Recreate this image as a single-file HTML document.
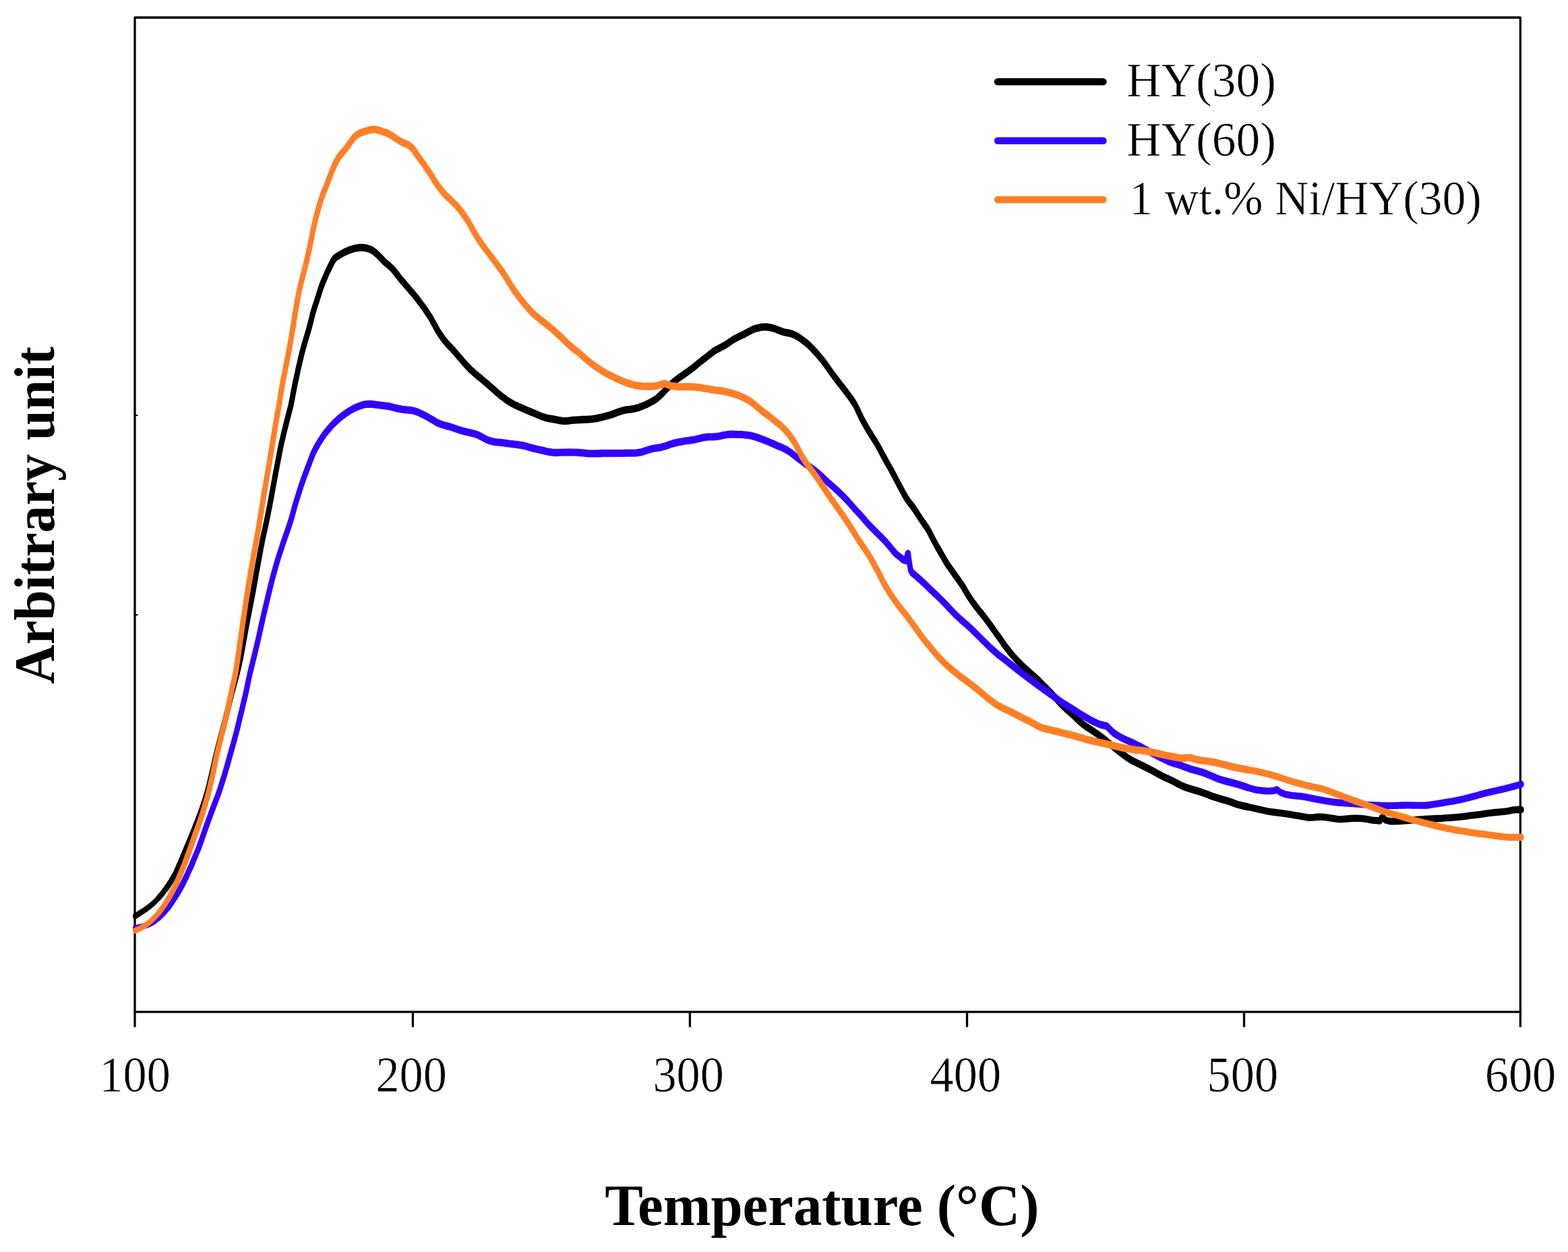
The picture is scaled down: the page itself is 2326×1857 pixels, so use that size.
<!DOCTYPE html>
<html lang="en">
<head>
<meta charset="utf-8">
<title>NH3-TPD profiles</title>
<style>
html,body{margin:0;padding:0;background:#fff;}
body{width:2326px;height:1857px;overflow:hidden;}
svg{display:block;}
text{font-family:"Liberation Serif","DejaVu Serif",serif;fill:#000;}
.tick{font-size:73.5px;stroke:#fff;stroke-width:0.6px;}
.leg{font-size:72.5px;stroke:#fff;stroke-width:0.6px;}
.xl{font-size:87px;font-weight:bold;}
.yl{font-size:85px;font-weight:bold;}
</style>
</head>
<body>
<svg width="2326" height="1857" viewBox="0 0 2326 1857">
<rect x="0" y="0" width="2326" height="1857" fill="#ffffff"/>
<g fill="none" stroke="#000" stroke-width="3.3" stroke-linecap="butt" stroke-linejoin="round">
<rect x="200.0" y="26.0" width="2055.3" height="1474.8"/>
<line x1="200.0" y1="1500.8" x2="200.0" y2="1523.4"/><line x1="612.4" y1="1500.8" x2="612.4" y2="1523.4"/><line x1="1023.4" y1="1500.8" x2="1023.4" y2="1523.4"/><line x1="1434.5" y1="1500.8" x2="1434.5" y2="1523.4"/><line x1="1845.5" y1="1500.8" x2="1845.5" y2="1523.4"/><line x1="2255.3" y1="1500.8" x2="2255.3" y2="1523.4"/>
<line x1="201.0" y1="616" x2="204.5" y2="616" stroke-width="2"/>
<line x1="201.0" y1="912" x2="204.5" y2="912" stroke-width="2"/>
</g>
<g fill="none" stroke-linejoin="round" stroke-linecap="round" transform="scale(1,1.38)">
<g stroke="#000000"><path stroke-width="6.5" d="M200.2,984.9 L204.4,982.9 L208.6,980.9 L212.8,979.0 L216.9,977.0 L221.0,974.8 L224.9,972.5 L228.6,970.1 L232.1,967.5 L235.5,964.9"/><path stroke-width="7.0" d="M235.5,964.9 L238.7,962.2 L241.9,959.3 L244.9,956.4 L247.9,953.6"/><path stroke-width="7.5" d="M247.9,953.6 L250.7,950.5 L253.3,947.5 L255.9,944.3 L258.5,941.2 L260.8,938.0 L263.0,934.8"/><path stroke-width="8.0" d="M263.0,934.8 L265.0,931.5 L267.0,928.2 L268.9,924.9 L270.9,921.5 L272.9,918.1 L274.8,914.8 L276.7,911.4 L278.7,908.1 L280.6,904.8 L282.5,901.4 L284.4,898.0 L286.3,894.7 L288.1,891.3 L289.9,888.0 L291.8,884.6 L293.6,881.2 L295.4,877.8 L297.1,874.4 L298.8,871.0 L300.5,867.6 L302.0,864.1 L303.6,860.7 L305.0,857.2 L306.5,853.8 L307.9,850.3 L309.1,846.8 L310.4,843.3 L311.5,839.7 L312.7,836.2 L313.9,832.7 L315.0,829.1 L316.1,825.7 L317.2,822.1 L318.3,818.6 L319.4,815.0 L320.5,811.5 L321.7,808.0 L322.9,804.4 L324.2,800.9 L325.5,797.5 L326.8,793.9 L328.0,790.4 L329.3,787.0 L330.6,783.4 L331.8,779.9 L333.1,776.4 L334.4,772.9 L335.6,769.3 L336.8,765.9 L338.0,762.3 L339.2,758.8 L340.3,755.3 L341.5,751.7 L342.7,748.3 L343.9,744.7 L345.2,741.2 L346.5,737.8 L347.8,734.2 L349.2,730.7 L350.5,727.2 L351.7,723.7 L352.9,720.2 L354.0,716.7 L355.1,713.1 L356.2,709.6 L357.2,706.0 L358.1,702.5 L359.1,698.9 L359.9,695.4 L360.8,691.8 L361.7,688.2 L362.6,684.6 L363.5,681.1 L364.4,677.5 L365.3,673.9 L366.2,670.4 L367.1,666.8 L368.0,663.3 L369.0,659.7 L369.9,656.2 L370.9,652.6 L371.9,649.1 L372.9,645.4 L373.8,641.9 L374.7,638.3 L375.6,634.8 L376.5,631.2 L377.4,627.6 L378.2,624.1 L379.1,620.5 L380.0,617.0 L380.9,613.3 L381.8,609.8 L382.7,606.2 L383.6,602.7 L384.5,599.1 L385.4,595.5 L386.3,592.0 L387.2,588.4 L388.2,584.9 L389.1,581.3 L390.1,577.8 L391.2,574.2 L392.3,570.7 L393.4,567.1 L394.4,563.6 L395.5,560.0 L396.5,556.4 L397.5,552.9 L398.4,549.3 L399.4,545.8 L400.4,542.2 L401.3,538.7 L402.2,535.1 L403.1,531.6 L404.0,528.0 L404.9,524.4 L405.8,520.9 L406.7,517.3 L407.6,513.7 L408.5,510.1 L409.4,506.6 L410.4,503.0 L411.3,499.5 L412.2,495.9 L413.2,492.4 L414.1,488.8 L415.1,485.2 L416.0,481.7 L417.0,478.1 L418.1,474.6 L419.3,471.1 L420.4,467.5 L421.6,464.0 L422.8,460.5 L424.0,457.0 L425.2,453.5 L426.4,449.9 L427.7,446.4 L429.0,442.9 L430.2,439.4 L431.4,435.9 L432.4,432.3 L433.4,428.8 L434.3,425.2 L435.2,421.7 L436.2,418.1 L437.1,414.6 L438.1,411.0 L439.2,407.5 L440.2,403.9 L441.3,400.4 L442.3,396.8 L443.4,393.3 L444.6,389.8 L445.7,386.2 L446.9,382.7 L448.0,379.2 L449.3,375.7 L450.6,372.2 L452.0,368.7 L453.4,365.2 L454.9,361.7 L456.3,358.3 L457.7,354.8 L459.0,351.3 L460.3,347.8 L461.5,344.3 L462.7,340.7 L463.9,337.2 L465.3,333.8 L466.7,330.3 L468.3,326.9 L469.9,323.4 L471.4,320.0 L472.9,316.5 L474.4,313.0 L475.9,309.6 L477.6,306.2 L479.4,302.8 L481.4,299.5 L483.4,296.2 L485.4,292.8 L487.5,289.6 L489.7,286.3 L492.0,283.0 L494.3,279.9 L497.2,277.0 L501.5,275.1 L505.7,273.2 L510.0,271.4 L514.5,269.9 L519.1,268.5 L523.8,267.4 L528.7,266.6 L533.6,266.1 L538.5,266.1 L543.3,266.6 L548.0,267.6 L552.3,269.2 L556.3,271.2 L560.0,273.6 L563.5,276.2 L566.9,278.8 L570.4,281.4 L574.2,283.8 L578.0,286.1 L581.6,288.6 L584.9,291.2 L588.0,294.1 L591.0,296.9 L594.1,299.8 L597.3,302.5 L600.6,305.3 L603.8,308.0 L607.1,310.8 L610.4,313.6 L613.6,316.3 L616.8,319.1 L619.9,322.0 L622.9,324.9 L625.9,327.8 L628.8,330.7 L631.7,333.7 L634.4,336.7 L637.2,339.7 L639.8,342.8 L642.2,345.9 L644.6,349.1 L647.0,352.3 L649.4,355.5 L652.1,358.6 L654.9,361.5 L657.8,364.5 L660.9,367.3 L664.2,370.1 L667.6,372.7 L671.1,375.3 L674.5,378.0 L677.7,380.7 L680.9,383.5 L684.2,386.2 L687.4,389.0 L690.7,391.7 L694.1,394.3 L697.6,397.0 L701.3,399.4 L705.1,401.8 L708.9,404.1 L712.7,406.4 L716.6,408.8 L720.4,411.1 L724.2,413.4 L728.0,415.8 L731.8,418.2 L735.5,420.7 L739.2,423.0 L743.1,425.4 L747.0,427.5 L751.0,429.7 L755.2,431.7 L759.5,433.6 L763.9,435.2 L768.4,436.8 L773.0,438.3 L777.6,439.7 L782.2,441.1 L786.8,442.5 L791.4,443.9 L796.0,445.3 L800.6,446.7 L805.3,448.0 L810.0,449.1 L814.8,449.9 L819.7,450.4 L824.6,451.1 L829.4,451.8 L834.2,452.4 L839.0,452.5 L844.0,452.2 L848.9,451.7 L853.9,451.4 L858.9,451.2 L863.9,451.0 L868.9,450.9 L873.9,450.7 L878.8,450.4 L883.7,449.9 L888.6,449.1 L893.5,448.3 L898.3,447.4 L903.1,446.4 L907.9,445.4 L912.6,444.1 L917.2,442.8 L921.9,441.7 L926.7,440.8 L931.6,440.3 L936.5,439.9 L941.4,439.2 L946.2,438.3 L950.9,437.0 L955.5,435.7 L960.1,434.2 L964.6,432.6 L968.9,430.9 L973.1,429.0 L976.9,426.7 L980.5,424.2 L984.0,421.7 L987.5,419.0 L990.9,416.4 L994.3,413.8 L998.0,411.3 L1001.8,409.0 L1005.8,406.8 L1009.9,404.7 L1014.0,402.6 L1018.1,400.6 L1022.2,398.5 L1026.2,396.3 L1030.1,394.1 L1033.9,391.7 L1037.8,389.5 L1041.7,387.2 L1045.7,385.0 L1049.6,382.8 L1053.5,380.5 L1057.5,378.3 L1061.6,376.3 L1066.0,374.6 L1070.5,373.0 L1074.8,371.3 L1079.0,369.4 L1083.1,367.3 L1087.2,365.3 L1091.5,363.5 L1096.0,361.9 L1100.5,360.4 L1105.0,358.7 L1109.3,357.0 L1113.7,355.3 L1118.2,353.8 L1122.9,352.7 L1127.8,351.9 L1132.7,351.5 L1137.6,351.5 L1142.5,352.0 L1147.3,352.8 L1152.0,354.0 L1156.5,355.4 L1161.1,356.6 L1165.8,357.5 L1170.6,358.0 L1175.3,359.0 L1179.8,360.4 L1184.1,362.2 L1188.2,364.2 L1192.2,366.4 L1196.1,368.6 L1199.9,370.9 L1203.4,373.5 L1206.9,376.2 L1210.3,378.8 L1213.6,381.5 L1216.8,384.3 L1220.0,387.1 L1223.0,389.9 L1226.0,392.9 L1228.8,395.9 L1231.7,398.8 L1234.6,401.8 L1237.6,404.7 L1240.6,407.5 L1243.7,410.4 L1246.7,413.3 L1249.8,416.2 L1252.9,419.1 L1255.9,421.9 L1258.9,424.8 L1261.9,427.8 L1264.7,430.7 L1267.4,433.8 L1269.8,436.9 L1272.0,440.1 L1274.1,443.5 L1276.2,446.7 L1278.4,450.0 L1280.8,453.2 L1283.2,456.3 L1285.7,459.5 L1288.2,462.6 L1290.9,465.7 L1293.5,468.8 L1296.2,471.8 L1298.9,474.9 L1301.4,478.0 L1303.9,481.2 L1306.2,484.3 L1308.5,487.5 L1310.9,490.7 L1313.3,493.9 L1315.7,497.1 L1318.2,500.2 L1320.7,503.4 L1323.1,506.6 L1325.5,509.8 L1327.8,513.0 L1330.1,516.2 L1332.4,519.4 L1334.7,522.6 L1337.1,525.8 L1339.5,529.0 L1341.9,532.2 L1344.4,535.3 L1347.2,538.3 L1350.2,541.2 L1353.3,544.0 L1356.2,546.9 L1358.9,549.9 L1361.6,553.0 L1364.3,556.0 L1367.1,559.0 L1370.0,562.0 L1372.8,564.9 L1375.6,568.0 L1378.1,571.1 L1380.5,574.3 L1382.7,577.5 L1385.0,580.7 L1387.4,583.9 L1389.8,587.1 L1392.3,590.2 L1394.8,593.3 L1397.3,596.5 L1399.8,599.6 L1402.3,602.8 L1404.9,605.9 L1407.7,608.9 L1410.6,611.9 L1413.5,614.8 L1416.4,617.8 L1419.3,620.7 L1422.2,623.7 L1425.0,626.7 L1427.8,629.6 L1430.4,632.8 L1432.9,635.9 L1435.5,639.0 L1438.2,642.0 L1441.0,645.1 L1443.8,648.0 L1446.8,650.9 L1449.8,653.8 L1453.0,656.7 L1456.1,659.4 L1459.2,662.2 L1462.3,665.1 L1465.2,668.0 L1468.2,671.0 L1471.1,673.9 L1474.0,676.9 L1476.9,679.9 L1479.8,682.8 L1482.7,685.7 L1485.6,688.7 L1488.5,691.7 L1491.4,694.6 L1494.4,697.5 L1497.5,700.4 L1500.7,703.2 L1503.9,705.9 L1507.2,708.6 L1510.7,711.3 L1514.2,713.8 L1517.8,716.4 L1521.4,718.8 L1525.2,721.2 L1528.9,723.6 L1532.7,726.0 L1536.4,728.4 L1540.0,730.9 L1543.6,733.5 L1547.1,736.0 L1550.7,738.6 L1554.2,741.2 L1557.7,743.8 L1561.2,746.4 L1564.5,749.1 L1567.9,751.7 L1571.2,754.5 L1574.5,757.1 L1578.1,759.7 L1581.7,762.2 L1585.5,764.5 L1589.3,766.9 L1592.9,769.3 L1596.5,771.9 L1600.1,774.4 L1603.9,776.8 L1607.8,779.1 L1611.8,781.2 L1616.0,783.2 L1620.1,785.1 L1624.3,787.2 L1628.4,789.2 L1632.5,791.4 L1636.4,793.6 L1640.3,795.9 L1644.1,798.2 L1648.0,800.5 L1651.8,802.8 L1655.7,805.1 L1659.6,807.4 L1663.5,809.6 L1667.5,811.8 L1671.6,813.9 L1675.8,815.9 L1680.1,817.6 L1684.6,819.3 L1689.1,820.9 L1693.5,822.5 L1698.0,824.1 L1702.5,825.7 L1707.0,827.4 L1711.4,829.1 L1715.7,830.9 L1720.1,832.6 L1724.5,834.3 L1729.0,835.9 L1733.6,837.4 L1738.1,838.9 L1742.5,840.5 L1746.9,842.2 L1751.3,843.9 L1755.9,845.4 L1760.5,846.7 L1765.3,847.8 L1770.1,848.8 L1774.9,849.8 L1779.7,850.9 L1784.4,852.0 L1789.1,853.3 L1793.7,854.6 L1798.4,855.9 L1803.1,857.0 L1807.9,858.1 L1812.7,859.1 L1817.5,860.1 L1822.3,861.1 L1827.0,862.2 L1831.7,863.6 L1836.4,864.7 L1841.2,865.7 L1846.1,866.5 L1851.0,867.2"/><path stroke-width="7.5" d="M1851.0,867.2 L1855.9,868.0 L1860.7,868.8 L1865.6,869.6 L1870.5,870.4 L1875.4,871.2 L1880.3,872.0 L1885.2,872.5 L1890.2,873.0 L1895.1,873.5 L1900.1,873.9 L1905.0,874.4 L1910.0,874.9 L1914.9,875.5 L1919.9,876.1 L1924.8,876.7 L1929.7,877.3 L1934.6,878.0 L1939.5,878.6 L1944.4,878.8 L1949.2,878.5 L1954.1,878.1 L1959.0,878.0 L1964.0,878.2 L1968.9,878.7 L1973.9,879.2 L1978.8,879.8 L1983.7,880.3 L1988.6,880.6 L1993.5,880.4 L1998.5,880.1 L2003.4,879.7 L2008.4,879.5 L2013.4,879.4 L2018.4,879.6 L2023.3,880.0 L2028.2,880.5 L2033.1,881.2 L2037.9,881.8 L2042.4,881.9 L2047.3,882.3 L2049.2,878.9 L2051.5,878.3 L2054.5,881.2 L2058.9,882.1 L2063.4,882.8 L2068.3,882.8 L2073.2,882.7 L2078.2,882.5 L2083.2,882.2 L2088.2,881.9 L2093.2,881.6 L2098.2,881.3 L2103.2,881.0 L2108.1,880.7 L2113.1,880.4 L2118.1,880.2 L2123.1,880.1 L2128.1,879.9 L2133.1,879.7 L2138.1,879.6 L2143.1,879.3 L2148.1,879.1 L2153.1,878.8 L2158.1,878.5 L2163.0,878.2 L2168.0,877.8 L2173.0,877.4 L2178.0,876.9 L2182.9,876.4 L2187.9,876.0 L2192.8,875.6 L2197.8,875.1 L2202.7,874.5 L2207.7,874.0 L2212.7,873.6 L2217.6,873.2 L2222.6,872.9 L2227.6,872.6 L2232.6,872.2 L2237.5,871.7 L2242.4,871.0 L2247.2,870.4 L2252.1,870.1 L2257.0,870.3"/></g>
<g stroke="#3300ff"><path stroke-width="6.5" d="M200.3,997.6 L205.2,996.9 L210.1,996.0 L214.9,995.1 L219.6,993.9 L224.1,992.4 L228.3,990.6 L232.3,988.4 L236.1,986.1"/><path stroke-width="7.0" d="M236.1,986.1 L239.6,983.6 L243.1,980.9 L246.4,978.2 L249.5,975.4"/><path stroke-width="7.5" d="M249.5,975.4 L252.4,972.5 L255.3,969.5 L258.0,966.4 L260.7,963.4 L263.3,960.3"/><path stroke-width="8.0" d="M263.3,960.3 L265.7,957.1 L268.2,954.0 L270.6,950.8 L272.9,947.5 L275.0,944.3 L277.2,941.0 L279.2,937.8 L281.3,934.4 L283.4,931.1 L285.4,927.8 L287.3,924.4 L289.2,921.1 L291.1,917.8 L293.0,914.4 L294.9,911.0 L296.6,907.6 L298.3,904.2 L300.0,900.8 L301.6,897.4 L303.2,893.9 L304.9,890.5 L306.5,887.1 L308.2,883.7 L309.9,880.3 L311.7,876.9 L313.4,873.5 L315.2,870.1 L316.9,866.7 L318.7,863.3 L320.5,859.9 L322.3,856.5 L324.0,853.1 L325.6,849.7 L327.2,846.2 L328.7,842.8 L330.2,839.3 L331.7,835.9 L333.2,832.4 L334.6,828.9 L336.0,825.4 L337.4,822.0 L338.7,818.5 L340.0,815.0 L341.4,811.4 L342.7,808.0 L344.1,804.5 L345.4,801.0 L346.8,797.5 L348.1,794.0 L349.4,790.5 L350.7,787.0 L351.9,783.5 L353.1,780.0 L354.3,776.4 L355.4,772.9 L356.6,769.4 L357.8,765.9 L359.0,762.3 L360.1,758.8 L361.3,755.3 L362.5,751.7 L363.6,748.3 L364.7,744.7 L365.8,741.2 L366.8,737.6 L367.8,734.1 L368.8,730.5 L369.8,727.0 L370.9,723.4 L372.1,719.9 L373.3,716.4 L374.5,712.8 L375.7,709.3 L376.9,705.8 L378.1,702.3 L379.2,698.8 L380.4,695.2 L381.5,691.7 L382.7,688.2 L383.8,684.6 L384.9,681.1 L386.0,677.5 L387.0,674.0 L388.1,670.4 L389.2,667.0 L390.3,663.4 L391.4,659.9 L392.6,656.3 L393.7,652.8 L394.9,649.3 L396.1,645.7 L397.2,642.2 L398.4,638.7 L399.6,635.1 L400.7,631.7 L401.9,628.1 L403.1,624.6 L404.4,621.1 L405.7,617.6 L407.0,614.1 L408.4,610.6 L409.7,607.1 L411.1,603.6 L412.6,600.1 L414.1,596.7 L415.6,593.3 L417.2,589.8 L418.8,586.4 L420.3,582.9 L422.0,579.5 L423.6,576.1 L425.3,572.7 L426.9,569.2 L428.6,565.8 L430.1,562.4 L431.6,558.9 L433.0,555.4 L434.3,552.0 L435.7,548.4 L437.0,544.9 L438.4,541.4 L439.8,538.0 L441.3,534.5 L442.8,531.1 L444.3,527.6 L445.8,524.1 L447.4,520.7 L449.0,517.2 L450.7,513.8 L452.4,510.4 L454.2,507.0 L455.9,503.6 L457.7,500.3 L459.4,496.9 L461.2,493.5 L463.0,490.1 L465.0,486.7 L467.1,483.5 L469.5,480.3 L471.9,477.2 L474.5,474.1 L477.3,471.0 L480.1,468.0 L483.1,465.1 L486.2,462.3 L489.4,459.6 L492.8,456.9 L496.3,454.3 L500.0,451.8 L503.6,449.4 L507.5,447.1 L511.5,445.0 L515.7,443.0 L519.9,441.0 L524.2,439.3 L528.7,437.7 L533.3,436.4 L538.0,435.2 L542.8,434.5 L547.6,434.2 L552.5,434.5 L557.4,435.0 L562.3,435.4 L567.3,435.8 L572.2,436.2 L577.1,436.8 L582.0,437.6 L586.8,438.6 L591.7,439.3 L596.6,440.0 L601.5,440.4 L606.5,440.7 L611.3,441.2 L616.1,442.0 L620.7,443.3 L625.2,444.8 L629.6,446.4 L634.1,448.1 L638.4,449.9 L642.7,451.7 L646.9,453.6 L651.3,455.2 L656.0,456.4 L660.7,457.4 L665.5,458.3 L670.3,459.4 L675.1,460.6 L679.8,461.7 L684.6,462.8 L689.4,463.8 L694.2,464.6 L699.1,465.4 L703.9,466.2 L708.6,467.4 L713.0,469.0 L717.3,470.7 L721.7,472.4 L726.3,473.7 L731.1,474.6 L736.0,475.2 L740.9,475.6 L745.9,475.9 L750.9,476.4 L755.8,476.9 L760.8,477.4 L765.7,477.8 L770.7,478.3 L775.6,478.8 L780.4,479.6 L785.2,480.7 L790.0,481.7 L794.9,482.5 L799.8,483.3 L804.6,484.1 L809.5,485.0 L814.4,485.7 L819.3,486.3 L824.2,486.5 L829.2,486.4 L834.2,486.3 L839.2,486.2 L844.2,486.1 L849.2,486.2 L854.2,486.2 L859.1,486.5 L864.1,486.8 L869.1,487.2 L874.1,487.5 L879.1,487.5 L884.1,487.5 L889.1,487.4 L894.1,487.2 L899.0,487.1 L904.0,487.1 L909.1,487.1 L914.1,487.2 L919.1,487.2 L924.1,487.1 L929.1,487.0 L934.1,487.0 L939.1,486.9 L944.0,486.7 L949.0,486.3 L953.7,485.5 L958.4,484.4 L963.1,483.2 L967.8,482.2 L972.7,481.6 L977.6,481.2 L982.4,480.4 L987.2,479.4 L991.9,478.2 L996.6,477.0 L1001.4,476.1 L1006.3,475.3 L1011.2,474.6 L1016.1,474.0 L1021.0,473.6 L1026.0,473.0 L1030.9,472.4 L1035.8,471.6 L1040.6,470.7 L1045.5,470.0 L1050.4,469.6 L1055.4,469.6 L1060.3,469.4 L1065.2,469.1 L1070.1,468.3 L1074.9,467.5 L1079.8,467.0 L1084.7,466.7 L1089.7,466.8 L1094.7,467.0 L1099.7,467.1 L1104.7,467.4 L1109.6,467.8 L1114.5,468.3 L1119.3,469.3 L1124.0,470.4 L1128.8,471.7 L1133.4,472.9 L1138.1,474.3 L1142.7,475.7 L1147.3,477.1 L1151.9,478.6 L1156.5,480.0 L1161.0,481.4 L1165.5,483.0 L1169.8,484.9 L1173.9,486.9 L1177.8,489.1 L1181.7,491.4 L1185.7,493.6 L1189.6,495.8 L1193.6,498.0 L1197.7,500.1 L1201.9,502.1 L1205.9,504.2 L1209.9,506.4 L1213.8,508.7 L1217.6,511.1 L1221.2,513.6 L1224.8,516.1 L1228.4,518.6 L1232.2,520.9 L1235.9,523.3 L1239.7,525.7 L1243.4,528.1 L1247.1,530.7 L1250.6,533.2 L1254.1,535.8 L1257.5,538.4 L1260.8,541.2 L1264.1,543.9 L1267.4,546.6 L1270.8,549.3 L1274.2,551.9 L1277.6,554.6 L1280.8,557.3 L1284.1,560.1 L1287.4,562.8 L1290.8,565.4 L1294.3,568.0 L1297.9,570.6 L1301.4,573.2 L1305.0,575.7 L1308.5,578.3 L1312.0,580.9 L1315.4,583.6 L1318.6,586.3 L1321.7,589.1 L1324.9,592.0 L1328.2,594.6 L1331.9,597.0 L1335.7,599.1 L1339.6,601.6 L1344.1,602.7 L1345.1,599.1 L1346.2,595.6 L1347.1,594.9 L1347.8,598.5 L1348.5,602.1 L1349.2,605.7 L1349.9,609.3 L1350.9,612.8 L1353.4,615.9 L1357.4,618.1 L1361.1,620.6 L1364.9,622.9 L1368.6,625.4 L1372.2,627.8 L1375.8,630.4 L1379.3,633.0 L1382.9,635.4 L1386.6,637.9 L1390.3,640.4 L1393.9,642.9 L1397.4,645.4 L1400.9,648.1 L1404.3,650.7 L1407.7,653.4 L1411.2,656.0 L1414.7,658.6 L1418.2,661.2 L1421.8,663.6 L1425.5,666.1 L1429.3,668.5 L1433.1,670.8 L1436.8,673.2 L1440.5,675.7 L1444.1,678.3 L1447.6,680.8 L1451.1,683.3 L1454.7,685.9 L1458.2,688.5 L1461.8,691.0 L1465.4,693.6 L1469.0,696.0 L1472.7,698.5 L1476.4,700.9 L1480.2,703.3 L1484.2,705.5 L1488.2,707.7 L1492.1,709.9 L1496.0,712.2 L1499.9,714.4 L1503.8,716.7 L1507.7,719.0 L1511.6,721.2 L1515.6,723.4 L1519.6,725.6 L1523.6,727.8 L1527.6,729.9 L1531.6,732.2 L1535.6,734.3 L1539.6,736.5 L1543.7,738.6 L1547.7,740.8 L1551.8,742.8 L1555.9,744.9 L1560.1,747.0 L1564.1,749.1 L1568.2,751.2 L1572.2,753.3 L1576.3,755.4 L1580.5,757.3 L1584.8,759.2 L1589.1,761.1 L1593.3,763.0 L1597.5,765.0 L1601.7,767.0 L1606.0,768.9 L1610.2,770.7 L1614.6,772.6 L1618.9,774.3 L1623.4,776.0 L1627.9,777.5 L1632.5,778.8 L1637.3,779.7 L1642.1,780.4 L1645.4,783.1 L1648.9,785.7 L1652.6,788.0 L1656.7,790.0 L1661.0,791.9 L1665.4,793.6 L1669.9,795.1 L1674.5,796.5 L1679.1,798.0 L1683.6,799.6 L1688.1,801.2 L1692.5,802.8 L1696.9,804.6 L1701.3,806.3 L1705.6,808.1 L1710.0,809.9 L1714.5,811.5 L1718.9,813.2 L1723.4,814.8 L1727.9,816.4 L1732.4,818.0 L1737.0,819.3 L1741.7,820.5 L1746.5,821.5 L1751.2,822.6 L1755.9,823.8 L1760.6,825.1 L1765.3,826.3 L1770.1,827.4 L1774.9,828.3 L1779.7,829.3 L1784.5,830.4 L1789.2,831.6 L1793.8,833.0 L1798.4,834.4 L1802.9,835.9 L1807.6,837.2 L1812.3,838.3 L1817.1,839.3 L1822.0,840.2 L1826.8,841.1 L1831.6,842.0 L1836.5,843.0 L1841.2,844.1 L1846.0,845.2 L1850.7,846.4"/><path stroke-width="7.5" d="M1850.7,846.4 L1855.5,847.5 L1860.3,848.5 L1865.2,849.2 L1870.1,849.6 L1875.1,850.0 L1880.0,850.3 L1884.8,850.2 L1889.7,849.8 L1894.2,848.6 L1898.0,850.9 L1902.3,852.6 L1906.8,853.8 L1911.6,854.5 L1916.5,855.0 L1921.5,855.3 L1926.5,855.7 L1931.4,856.0 L1936.4,856.6 L1941.3,857.3 L1946.2,858.0 L1951.1,858.8 L1956.0,859.5 L1960.9,860.1 L1965.8,860.8 L1970.8,861.4 L1975.7,861.9 L1980.7,862.3 L1985.7,862.7 L1990.7,863.0 L1995.6,863.2 L2000.6,863.4 L2005.6,863.7 L2010.6,864.0 L2015.6,864.2 L2020.6,864.5 L2025.6,864.9 L2030.6,865.1 L2035.6,865.4 L2040.6,865.6 L2045.6,865.7 L2050.6,865.9 L2055.6,865.9 L2060.6,866.0 L2065.6,865.9 L2070.6,865.9 L2075.6,865.7 L2080.6,865.6 L2085.6,865.5 L2090.6,865.5 L2095.6,865.6 L2100.6,865.7 L2105.6,865.7 L2110.6,865.7 L2115.5,865.6 L2120.5,865.2 L2125.4,864.6 L2130.4,864.1 L2135.3,863.5 L2140.3,862.9 L2145.2,862.3 L2150.1,861.7 L2155.1,861.1 L2160.0,860.4 L2164.9,859.7 L2169.8,858.9 L2174.6,858.1 L2179.5,857.2 L2184.3,856.3 L2189.2,855.4 L2194.0,854.3 L2198.8,853.4 L2203.6,852.5 L2208.5,851.6 L2213.4,850.8 L2218.2,850.0 L2223.1,849.2 L2228.0,848.4 L2232.9,847.5 L2237.7,846.7 L2242.6,845.7 L2247.4,844.8 L2252.2,843.8 L2257.0,842.8"/></g>
<g stroke="#ff7f27"><path stroke-width="6.5" d="M200.4,1000.3 L204.9,998.8 L209.4,997.2 L213.8,995.4 L217.9,993.4 L221.8,991.2 L225.5,988.8 L229.1,986.2 L232.5,983.6 L235.7,980.9"/><path stroke-width="7.0" d="M235.7,980.9 L238.8,978.0 L241.7,975.0 L244.5,972.0 L247.2,969.0 L249.8,965.9"/><path stroke-width="7.5" d="M249.8,965.9 L252.2,962.8 L254.6,959.6 L257.0,956.4 L259.3,953.1 L261.4,949.9 L263.5,946.5"/><path stroke-width="8.0" d="M263.5,946.5 L265.4,943.2 L267.4,939.9 L269.3,936.5 L271.2,933.2 L273.1,929.8 L274.8,926.4 L276.6,923.0 L278.3,919.6 L280.0,916.2 L281.7,912.8 L283.4,909.3 L285.1,905.9 L286.8,902.5 L288.4,899.1 L290.1,895.7 L291.8,892.3 L293.5,888.8 L295.2,885.4 L296.8,882.0 L298.4,878.6 L300.0,875.1 L301.5,871.7 L302.9,868.2 L304.3,864.7 L305.7,861.2 L307.1,857.8 L308.4,854.3 L309.7,850.7 L310.8,847.2 L312.0,843.7 L313.1,840.1 L314.2,836.6 L315.3,833.0 L316.4,829.6 L317.4,826.0 L318.4,822.5 L319.4,818.9 L320.5,815.4 L321.5,811.8 L322.6,808.3 L323.8,804.7 L325.0,801.2 L326.2,797.7 L327.4,794.1 L328.6,790.7 L329.8,787.1 L331.0,783.6 L332.2,780.1 L333.3,776.5 L334.5,773.0 L335.7,769.5 L336.8,765.9 L337.8,762.4 L338.8,758.8 L339.9,755.3 L340.9,751.7 L341.9,748.2 L343.0,744.6 L344.0,741.1 L345.1,737.6 L346.3,734.1 L347.3,730.5 L348.4,727.0 L349.3,723.4 L350.2,719.9 L351.0,716.2 L351.7,712.7 L352.5,709.1 L353.2,705.5 L353.9,701.9 L354.6,698.3 L355.3,694.7 L356.0,691.1 L356.7,687.5 L357.4,683.9 L358.1,680.4 L358.8,676.7 L359.5,673.2 L360.2,669.6 L360.9,666.0 L361.6,662.4 L362.4,658.8 L363.1,655.2 L363.9,651.6 L364.6,648.0 L365.4,644.5 L366.1,640.9 L366.9,637.3 L367.7,633.7 L368.5,630.1 L369.3,626.5 L370.1,623.0 L370.9,619.3 L371.7,615.8 L372.5,612.2 L373.4,608.6 L374.2,605.1 L375.1,601.5 L375.9,597.9 L376.8,594.3 L377.7,590.8 L378.6,587.2 L379.5,583.6 L380.4,580.1 L381.3,576.5 L382.1,573.0 L383.0,569.3 L383.9,565.8 L384.7,562.2 L385.5,558.6 L386.3,555.1 L387.1,551.4 L387.9,547.9 L388.7,544.3 L389.5,540.7 L390.3,537.2 L391.0,533.6 L391.8,530.0 L392.6,526.4 L393.5,522.8 L394.3,519.3 L395.1,515.7 L396.0,512.1 L396.9,508.6 L397.8,505.0 L398.6,501.4 L399.5,497.8 L400.3,494.3 L401.1,490.7 L401.9,487.1 L402.7,483.5 L403.5,479.9 L404.3,476.3 L405.1,472.8 L405.9,469.2 L406.7,465.6 L407.5,462.0 L408.3,458.4 L409.1,454.9 L410.0,451.3 L410.9,447.7 L411.7,444.1 L412.6,440.6 L413.5,437.0 L414.3,433.4 L415.1,429.9 L415.9,426.2 L416.6,422.7 L417.4,419.1 L418.3,415.5 L419.2,412.0 L420.1,408.4 L421.1,404.9 L422.1,401.3 L423.1,397.8 L424.0,394.1 L425.0,390.6 L426.0,387.0 L426.9,383.5 L427.8,379.9 L428.8,376.4 L429.7,372.8 L430.5,369.2 L431.4,365.7 L432.2,362.0 L433.0,358.5 L433.9,354.9 L434.7,351.3 L435.5,347.8 L436.2,344.1 L437.0,340.6 L437.8,337.0 L438.6,333.4 L439.5,329.9 L440.3,326.3 L441.2,322.7 L442.1,319.1 L443.1,315.6 L444.0,312.0 L445.1,308.5 L446.3,304.9 L447.5,301.4 L448.8,297.9 L450.0,294.4 L451.3,290.9 L452.5,287.4 L453.7,283.8 L454.8,280.4 L456.0,276.8 L457.1,273.3 L458.2,269.7 L459.3,266.2 L460.3,262.6 L461.2,259.1 L462.2,255.5 L463.1,252.0 L464.1,248.4 L465.1,244.9 L466.2,241.3 L467.4,237.8 L468.6,234.3 L469.8,230.7 L471.1,227.2 L472.4,223.8 L473.8,220.2 L475.2,216.8 L476.8,213.3 L478.4,209.9 L480.3,206.5 L482.2,203.2 L484.0,199.9 L485.9,196.4 L487.6,193.0 L489.4,189.6 L491.1,186.3 L493.0,182.9 L495.0,179.6 L497.0,176.2 L499.2,173.0 L501.7,169.9 L504.6,167.0 L507.8,164.3 L511.0,161.5 L514.2,158.7 L517.1,155.7 L519.9,152.8 L522.8,149.8 L525.9,147.1 L529.6,144.9 L533.8,143.2 L538.4,141.9 L543.1,140.8 L547.9,139.8 L552.6,139.1 L557.3,139.2 L562.0,140.0 L566.6,141.2 L571.3,142.3 L575.8,143.6 L580.2,145.3 L584.3,147.3 L588.3,149.3 L592.5,151.4 L596.8,153.0 L601.3,154.3 L605.7,155.8 L609.6,157.8 L613.0,160.4 L615.8,163.3 L618.6,166.3 L621.4,169.2 L624.4,172.2 L627.3,175.1 L630.2,178.0 L632.9,181.1 L635.7,184.1 L638.5,187.1 L641.2,190.1 L643.8,193.3 L646.5,196.3 L649.3,199.3 L652.3,202.2 L655.4,205.1 L658.6,207.8 L662.0,210.4 L665.6,213.0 L669.3,215.4 L672.9,218.0 L676.4,220.5 L679.7,223.2 L682.9,226.0 L686.0,228.9 L688.9,231.8 L691.6,234.9 L694.3,237.9 L696.8,241.0 L699.3,244.2 L701.7,247.4 L704.2,250.5 L706.8,253.6 L709.4,256.7 L712.2,259.7 L715.1,262.7 L718.0,265.6 L721.0,268.6 L724.0,271.4 L727.0,274.3 L730.0,277.2 L733.0,280.1 L736.0,283.0 L739.0,285.9 L742.0,288.8 L744.9,291.8 L747.7,294.8 L750.4,297.8 L753.0,300.9 L755.6,304.1 L758.2,307.1 L760.9,310.1 L763.8,313.2 L766.7,316.1 L769.7,319.0 L772.8,321.9 L775.9,324.7 L779.0,327.5 L782.3,330.3 L785.6,333.0 L789.0,335.7 L792.7,338.1 L796.4,340.4 L800.3,342.8 L804.2,345.0 L808.2,347.2 L812.1,349.5 L816.0,351.7 L819.8,354.1 L823.6,356.5 L827.2,359.0 L830.9,361.4 L834.5,364.0 L838.0,366.5 L841.7,369.0 L845.4,371.4 L849.2,373.8 L853.1,376.0 L857.1,378.3 L860.9,380.6 L864.6,383.0 L868.4,385.4 L872.2,387.8 L876.1,390.0 L880.1,392.2 L884.1,394.3 L888.2,396.4 L892.4,398.4 L896.7,400.2 L901.1,402.0 L905.6,403.6 L910.0,405.2 L914.5,406.8 L919.1,408.3 L923.6,409.8 L928.3,411.1 L933.0,412.2 L937.8,413.3 L942.7,414.1 L947.6,414.6 L952.6,415.0 L957.5,415.2 L962.5,415.3 L967.5,415.2 L972.4,414.9 L977.2,414.1 L982.0,413.0 L986.6,412.2 L991.2,413.7 L995.9,414.7 L1000.8,415.3 L1005.7,415.7 L1010.7,415.7 L1015.7,415.7 L1020.7,415.6 L1025.7,415.7 L1030.7,415.9 L1035.6,416.3 L1040.6,416.9 L1045.5,417.5 L1050.5,418.0 L1055.4,418.7 L1060.3,419.3 L1065.3,419.8 L1070.2,420.2 L1075.2,420.8 L1080.1,421.5 L1084.9,422.5 L1089.7,423.6 L1094.4,424.7 L1099.0,426.1 L1103.6,427.6 L1108.0,429.2 L1112.3,431.1 L1116.3,433.1 L1120.2,435.4 L1123.9,437.8 L1127.7,440.1 L1131.6,442.4 L1135.7,444.6 L1139.7,446.7 L1143.6,448.9 L1147.5,451.2 L1151.4,453.5 L1155.3,455.7 L1159.1,458.1 L1162.7,460.6 L1166.1,463.2 L1169.4,466.0 L1172.4,468.8 L1175.2,471.8 L1177.9,474.9 L1180.5,478.0 L1182.9,481.2 L1185.2,484.4 L1187.5,487.6 L1189.9,490.8 L1192.5,493.8 L1195.3,496.9 L1198.2,499.9 L1201.2,502.8 L1204.2,505.7 L1207.2,508.6 L1210.1,511.4 L1213.0,514.4 L1215.8,517.5 L1218.5,520.5 L1221.3,523.5 L1224.1,526.5 L1226.9,529.6 L1229.6,532.5 L1232.4,535.6 L1235.3,538.6 L1238.1,541.5 L1241.1,544.5 L1244.0,547.4 L1246.9,550.4 L1249.8,553.3 L1252.7,556.3 L1255.4,559.3 L1258.1,562.4 L1260.8,565.4 L1263.4,568.5 L1266.1,571.6 L1268.7,574.6 L1271.4,577.8 L1274.1,580.8 L1276.8,583.8 L1279.6,586.8 L1282.5,589.8 L1285.3,592.8 L1288.1,595.8 L1290.7,598.9 L1293.2,602.0 L1295.6,605.2 L1298.0,608.4 L1300.4,611.6 L1302.7,614.8 L1304.9,618.0 L1307.2,621.3 L1309.5,624.5 L1311.9,627.7 L1314.4,630.8 L1317.0,633.9 L1319.6,637.0 L1322.4,640.1 L1325.1,643.0 L1328.0,646.0 L1330.9,649.0 L1333.9,651.9 L1337.0,654.8 L1340.1,657.5 L1343.3,660.4 L1346.4,663.2 L1349.4,666.1 L1352.3,669.1 L1355.3,672.0 L1358.2,674.9 L1361.1,677.9 L1364.0,680.9 L1366.9,683.8 L1369.9,686.7 L1373.0,689.5 L1376.2,692.3 L1379.4,695.1 L1382.6,697.9 L1385.8,700.7 L1389.0,703.5 L1392.3,706.2 L1395.8,708.8 L1399.3,711.4 L1402.9,713.9 L1406.6,716.4 L1410.4,718.8 L1414.2,721.1 L1418.1,723.3 L1422.0,725.6 L1426.0,727.8 L1430.0,730.0 L1434.0,732.2 L1438.0,734.3 L1442.0,736.5 L1446.0,738.7 L1449.9,741.0 L1453.7,743.3 L1457.5,745.7 L1461.4,748.0 L1465.2,750.3 L1469.1,752.5 L1473.1,754.7 L1477.2,756.8 L1481.5,758.7 L1485.8,760.4 L1490.3,762.0 L1494.8,763.6 L1499.4,765.1 L1503.9,766.7 L1508.2,768.4 L1512.6,770.1 L1517.1,771.8 L1521.6,773.3 L1526.1,774.9 L1530.6,776.5 L1534.9,778.3 L1539.1,780.1 L1543.5,781.7 L1548.2,782.9 L1553.0,783.7 L1557.9,784.5 L1562.7,785.3 L1567.6,786.1 L1572.5,787.0 L1577.3,787.9 L1582.2,788.8 L1587.0,789.6 L1591.9,790.5 L1596.7,791.5 L1601.5,792.5 L1606.3,793.6 L1611.1,794.6 L1615.9,795.5 L1620.8,796.4 L1625.7,797.2 L1630.6,797.9 L1635.4,798.7 L1640.3,799.5 L1645.2,800.3 L1650.1,801.1 L1655.0,802.0 L1659.8,802.8 L1664.7,803.6 L1669.6,804.3 L1674.5,804.9 L1679.5,805.4 L1684.4,805.9 L1689.4,806.3 L1694.4,806.7 L1699.3,807.2 L1704.3,807.8 L1709.2,808.6 L1714.1,809.3 L1718.9,810.1 L1723.8,810.9 L1728.7,811.7 L1733.6,812.4 L1738.5,813.0 L1743.4,813.8 L1748.3,814.5 L1753.2,814.9 L1758.0,814.9 L1763.0,814.2 L1767.7,814.7 L1772.4,816.0 L1777.2,816.8 L1782.1,817.3 L1787.0,817.8 L1792.0,818.1 L1796.9,818.8 L1801.8,819.4 L1806.7,820.2 L1811.6,821.1 L1816.4,822.0 L1821.3,822.8 L1826.1,823.7 L1831.0,824.6 L1835.9,825.3 L1840.8,826.1 L1845.7,826.7 L1850.6,827.4"/><path stroke-width="7.5" d="M1850.6,827.4 L1855.6,828.0 L1860.5,828.6 L1865.4,829.3 L1870.3,830.1 L1875.2,830.9 L1880.0,831.8 L1884.9,832.7 L1889.7,833.7 L1894.5,834.8 L1899.2,835.9 L1904.0,837.0 L1908.7,838.2 L1913.5,839.3 L1918.3,840.3 L1923.1,841.2 L1928.0,842.2 L1932.8,843.1 L1937.6,844.1 L1942.5,844.9 L1947.4,845.7 L1952.3,846.4 L1957.2,847.2 L1962.0,848.0 L1966.8,849.1 L1971.5,850.3 L1976.2,851.6 L1980.8,852.9 L1985.5,854.2 L1990.2,855.5 L1994.8,856.8 L1999.5,858.0 L2004.2,859.3 L2008.9,860.6 L2013.7,861.7 L2018.4,863.0 L2023.1,864.2 L2027.8,865.4 L2032.5,866.7 L2037.2,868.0 L2041.9,869.2 L2046.6,870.4 L2051.3,871.7 L2056.0,872.8 L2060.8,873.9 L2065.6,874.9 L2070.4,875.9 L2075.3,876.8 L2080.1,877.8 L2084.8,878.9 L2089.6,880.0 L2094.4,881.0 L2099.3,881.9 L2104.1,882.8 L2109.0,883.7 L2113.8,884.6 L2118.7,885.4 L2123.5,886.4 L2128.4,887.2 L2133.2,888.1 L2138.1,889.0 L2143.0,889.8 L2147.9,890.6 L2152.8,891.2 L2157.7,891.9 L2162.6,892.5 L2167.6,893.0 L2172.5,893.6 L2177.5,894.3 L2182.4,894.9 L2187.3,895.4 L2192.3,895.9 L2197.3,896.3 L2202.2,896.7 L2207.2,897.2 L2212.2,897.7 L2217.1,898.2 L2222.1,898.6 L2227.0,899.1 L2232.0,899.5 L2237.0,899.8 L2242.0,899.9 L2247.0,900.0 L2252.0,899.9 L2257.0,899.8"/></g>
</g>
<g fill="none" stroke-width="10.4" stroke-linecap="round"><line x1="1480" y1="121.2" x2="1636.5" y2="121.2" stroke="#000000"/><line x1="1480" y1="208.7" x2="1636.5" y2="208.7" stroke="#3300ff"/><line x1="1480" y1="296.2" x2="1636.5" y2="296.2" stroke="#ff7f27"/></g>
<g class="leg"><text transform="translate(1671.1,143.2) scale(0.984,1)">HY(30)</text><text transform="translate(1671.1,230.7) scale(0.984,1)">HY(60)</text><text transform="translate(1675.3,318.2) scale(0.9646,1)">1 wt.% Ni/HY(30)</text></g>
<g class="tick"><text transform="translate(200.2,1619.0) scale(0.957,1)" text-anchor="middle">100</text><text transform="translate(610.2,1619.0) scale(0.957,1)" text-anchor="middle">200</text><text transform="translate(1021.2,1619.0) scale(0.957,1)" text-anchor="middle">300</text><text transform="translate(1432.3,1619.0) scale(0.957,1)" text-anchor="middle">400</text><text transform="translate(1843.3,1619.0) scale(0.957,1)" text-anchor="middle">500</text><text transform="translate(2255.5,1619.0) scale(0.957,1)" text-anchor="middle">600</text></g>
<text class="xl" transform="translate(1219.4,1817.2) scale(0.9754,1)" text-anchor="middle">Temperature (°C)</text>
<text class="yl" transform="translate(80.3,764.3) rotate(-90) scale(0.951,1)" text-anchor="middle">Arbitrary unit</text>
</svg>
</body>
</html>
